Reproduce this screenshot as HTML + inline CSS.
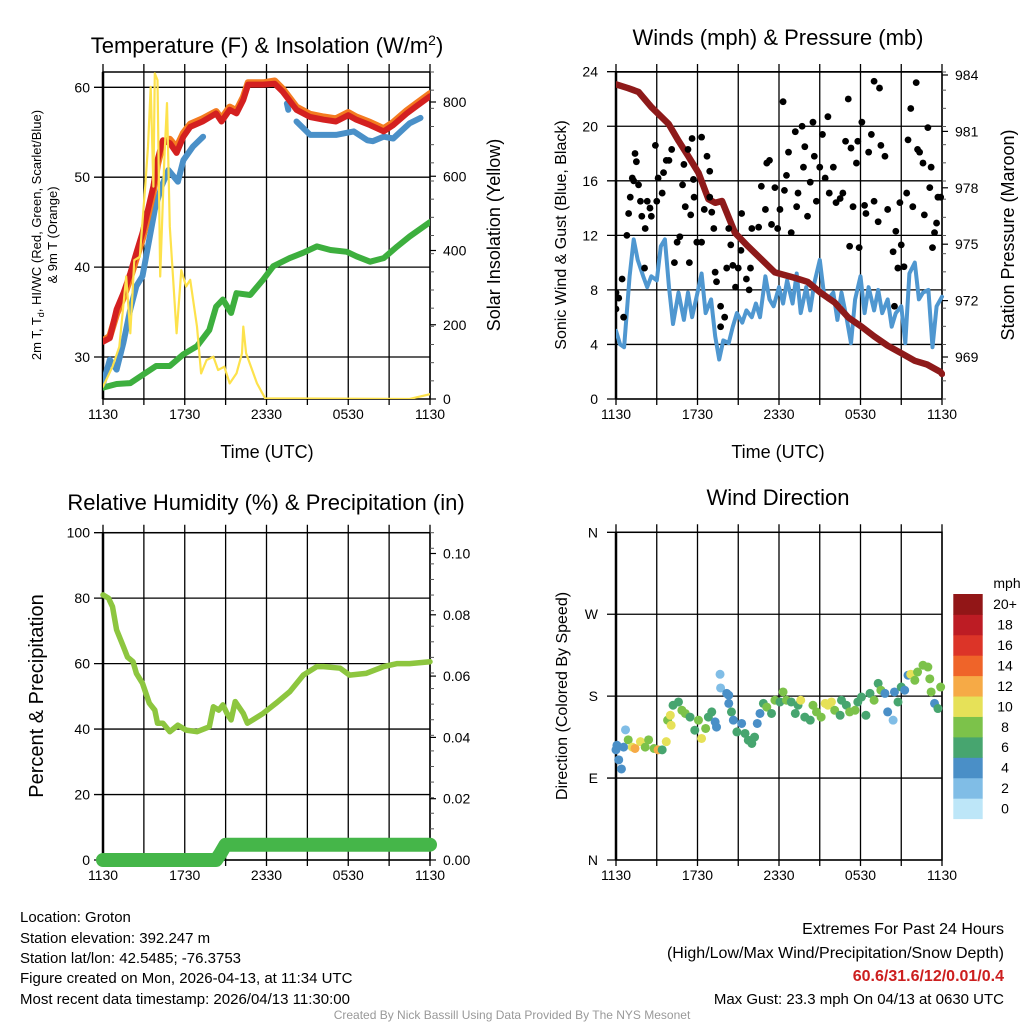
<!DOCTYPE html>
<html><head><meta charset="utf-8"><style>
html,body{margin:0;padding:0;background:#fff;width:1024px;height:1024px;overflow:hidden}
svg{font-family:"Liberation Sans",sans-serif}
</style></head><body>
<svg id="c" width="1024" height="1024" viewBox="0 0 1024 1024">
<g font-size="22" text-anchor="middle" fill="#000">
<text x="267" y="53">Temperature (F) &amp; Insolation (W/m<tspan dy="-8" font-size="14">2</tspan><tspan dy="8">)</tspan></text>
<text x="778" y="45">Winds (mph) &amp; Pressure (mb)</text>
<text x="266" y="510">Relative Humidity (%) &amp; Precipitation (in)</text>
<text x="778" y="505">Wind Direction</text>
</g>
<g id="p1"></g>
<g id="p2"></g>
<g id="p3"></g>
<g id="p4"></g>
<g text-anchor="middle">
<text x="267" y="458" font-size="18">Time (UTC)</text>
<text x="778" y="458" font-size="18">Time (UTC)</text>
<text transform="translate(41,235) rotate(-90)" font-size="13">2m T, T<tspan font-size="9" dy="3">d</tspan><tspan dy="-3">, HI/WC (Red, Green, Scarlet/Blue)</tspan></text>
<text transform="translate(57,235) rotate(-90)" font-size="13">&amp; 9m T (Orange)</text>
<text transform="translate(500,235) rotate(-90)" font-size="18">Solar Insolation (Yellow)</text>
<text transform="translate(566,235) rotate(-90)" font-size="16">Sonic Wind &amp; Gust (Blue, Black)</text>
<text transform="translate(1014,235) rotate(-90)" font-size="18">Station Pressure (Maroon)</text>
<text transform="translate(43,696) rotate(-90)" font-size="20">Percent &amp; Precipitation</text>
<text transform="translate(567,696) rotate(-90)" font-size="16">Direction (Colored By Speed)</text>
</g>
<g font-size="15">
<text x="20" y="922">Location: Groton</text>
<text x="20" y="943">Station elevation: 392.247 m</text>
<text x="20" y="963">Station lat/lon: 42.5485; -76.3753</text>
<text x="20" y="983">Figure created on Mon, 2026-04-13, at 11:34 UTC</text>
<text x="20" y="1004">Most recent data timestamp: 2026/04/13 11:30:00</text>
</g>
<g font-size="16" text-anchor="end">
<text x="1004" y="934">Extremes For Past 24 Hours</text>
<text x="1004" y="958">(High/Low/Max Wind/Precipitation/Snow Depth)</text>
<text x="1004" y="981" fill="#cc1f1f" font-weight="bold">60.6/31.6/12/0.01/0.4</text>
<text x="1004" y="1004" font-size="15">Max Gust: 23.3 mph On 04/13 at 0630 UTC</text>
</g>
<text x="512" y="1019" font-size="12" fill="#999" text-anchor="middle">Created By Nick Bassill Using Data Provided By The NYS Mesonet</text>
</svg>
<script>
// ---------- data ----------
const timeTicks = ["1130","1730","2330","0530","1130"];
const tempTicks = [30,40,50,60];
const solarTicks = [0,200,400,600,800];
const windTicks = [0,4,8,12,16,20,24];
const presTicks = [969,972,975,978,981,984];
const rhTicks = [0,20,40,60,80,100];
const precipTicks = ["0.00","0.02","0.04","0.06","0.08","0.10"];
const dirTicks = ["N","E","S","W","N"];
const speedBins = ["0","2","4","6","8","10","12","14","16","18","20+"];

const tHours = [0,0.5,1,1.5,2,2.45,2.9,3.3,3.7,4,4.4,4.9,5.4,5.9,6.4,7.3,8.3,8.7,9.3,9.8,10.3,10.65,11.75,12.6,13.2,14.2,15.2,16.2,17.1,18,18.6,19.6,20.6,21.3,22.3,23,24];
const tempT = [31.7,32.1,35.3,37.1,39.3,41.6,43.8,46.4,49,51.9,54.1,53.8,52.7,54.5,55.6,56.2,57.1,56.2,57.5,57.1,58.6,60.3,60.3,60.4,59.5,57.5,56.7,56.4,56.2,56.9,56.4,55.8,55.1,55.8,57.1,57.9,59];
const temp9m = [31.8,32.3,34.8,36.6,38.8,41.0,43.2,45.8,48.5,51.4,53.8,54.2,53.3,54.9,55.9,56.5,57.3,56.5,57.8,57.4,58.9,60.5,60.5,60.7,59.8,57.8,57.0,56.7,56.5,57.2,56.7,56.1,55.4,56.1,57.4,58.2,59.3];
const wcHours = [0,0.5,1,1.5,2,2.45,2.9,3.3,3.8,4.3,4.8,5.5,5.9,6.6,7.35,null,9.4,null,13.5,13.6,null,14.2,15.2,16.2,17.1,18.4,19.4,19.8,20.6,21.3,22,22.5,23.3];
const wcVals  = [27,29.7,28.6,31.6,35.3,37.9,39,42.3,46.4,49,50.8,49.5,51.9,53.4,54.5,null,56.4,null,58.2,57.5,null,56.2,54.7,54.7,54.7,55.1,54.1,54,54.5,54.3,55.3,56,56.6];
const tdHours = [0,1,2,2.9,3.9,4.9,5.9,6.9,7.8,8.3,8.8,9.4,9.8,10.8,11.75,12.5,13.7,14.7,15.7,16.7,17.9,18.6,19.6,20.6,21.6,22.5,24];
const tdVals  = [26.6,27,27.1,28,29,29,30.3,31.2,33,35.6,36.4,34.9,37.1,36.9,38.6,40.1,41,41.6,42.3,41.9,41.7,41.2,40.6,41,42.3,43.4,45];
const solHours = [0,0.7,1.2,1.7,2,2.3,2.7,3.1,3.3,3.5,3.7,3.8,4,4.2,4.5,4.7,4.9,5.4,5.75,6.1,6.4,6.9,7.2,7.6,8.1,8.45,8.9,9.3,9.8,10.2,10.3,10.5,11.3,11.9,22.5,24];
const solVals  = [33,87,141,330,177,374,383,572,680,841,572,877,859,330,644,797,464,177,347,303,321,195,69,105,114,78,87,42,69,123,195,123,42,2,0,13];

const presHours = [0,0.9,1.66,2.6,3.87,4.6,5.3,6.07,6.8,7.3,7.8,8.76,9.7,10.7,11.7,13.2,14.1,15.1,16.1,17.1,18.1,19,20,21,22,22.9,23.9,24];
const presVals  = [983.5,983.3,983.1,982.3,981.4,980.5,979.7,978.8,977.4,977.2,977.3,975.6,974.9,974.2,973.5,973.2,973,972.4,971.9,971.1,970.6,970.1,969.6,969.2,968.8,968.6,968.2,968.1];
const windHours = [0,0.3,0.6,1,1.3,1.6,2,2.3,2.6,3,3.3,3.6,3.9,4.2,4.6,5,5.3,5.6,6,6.3,6.6,7,7.3,7.6,7.9,8.3,8.6,8.9,9.3,9.6,10,10.3,10.6,11,11.3,11.6,12,12.3,12.6,13,13.3,13.6,14,14.3,14.6,15,15.3,15.6,16,16.3,16.6,17,17.3,17.6,18,18.3,18.6,19,19.3,19.6,20,20.3,20.6,21,21.3,21.6,22,22.3,22.6,23,23.3,23.6,24];
const windVals  = [5,4,3.8,9,11.7,10.2,9,8.2,9,8.7,11.2,11.7,8.2,5.5,7.8,5.8,7.8,6,7.8,9.2,6.3,7.3,4.6,2.9,4.3,4.1,5.3,6.3,5.6,6.5,6,7,6,9,7.3,6.8,8.2,7,8.7,7,9.2,6.3,8.2,6.5,8.5,10.2,7.8,7.3,7.8,5.8,7.8,5.8,4.1,7.3,9,6.3,8.2,6.5,8,6.3,7.3,5.3,6.3,6.8,4.1,9.2,10,7.3,7.8,8,3.8,6.8,7.5];
const gustHours = [0,0,0.2,0.45,0.56,0.8,0.93,1.05,1.2,1.3,1.4,1.5,1.66,1.8,1.9,2.1,2.15,2.3,2.5,2.6,2.9,3,3.1,3.4,3.5,3.7,3.9,4.1,4.3,4.5,4.7,4.9,5,5.1,5.3,5.4,5.5,5.6,5.7,5.75,5.95,6.3,6.3,6.5,6.7,6.9,6.9,7.05,7.2,7.3,7.4,7.7,7.7,8,8.15,8.3,8.45,8.6,8.8,9,9.2,9.25,9.6,9.8,9.9,10,10.5,10.7,11,11.1,11.3,11.45,11.7,11.9,12.07,12.3,12.4,12.55,12.7,12.9,13.2,13.3,13.4,13.7,13.8,13.9,14.1,14.3,14.5,14.6,14.75,15,15.2,15.4,15.6,15.7,16,16.2,16.5,16.7,16.9,17.1,17.2,17.3,17.45,17.7,17.8,17.9,18.1,18.3,18.4,18.6,18.8,19,19,19.3,19.4,19.5,19.8,20,20.4,20.5,20.6,20.75,20.9,21,21.2,21.4,21.5,21.7,21.85,22.1,22.2,22.35,22.6,22.7,22.96,23.1,23.2,23.3,23.45,23.6,23.7,23.9];
const gustVals  = [6.6,7.8,7.4,8.8,6,12,13.6,14.8,16.2,16,18,17.4,15.7,14.5,13.4,9.6,12.5,14.5,14,13.4,18.6,14.5,16.2,15.1,16.6,17.5,17.5,18.3,10,11.5,11.9,15.7,17.2,14.1,18.3,10,13.5,19.1,16.1,14.8,11.5,11.5,19.2,13.9,17.8,16.7,14.8,13.7,12.5,9.3,8.6,6.8,5.3,6,9.6,12.5,11.3,9.8,8.2,9.6,10.9,13.6,8.8,8,9.6,12.5,12.6,15.6,13.9,17.3,17.5,12.8,15.5,12.5,13.9,21.8,15.3,16.4,18.1,12.2,19.6,14.1,15.1,20,17,18.5,13.4,15.9,20.3,17.8,14.5,17,19.4,16.2,20.7,15.1,17,14.4,14.7,15.1,18.9,22,11.2,18.4,14.1,17.3,18.9,11.1,20.3,14.2,13.6,18.1,19.4,23.3,14.5,13,22.8,18.6,17.8,13.9,10.8,6.8,12.3,9.6,14.4,11.3,9.7,15.1,19,21.3,14.1,23.2,18.3,18.1,17.3,13.5,19.9,15.5,17,11.1,12.2,12.9,14.8,14.8];

const rhHours = [0,0.4,0.7,1,1.5,1.8,2.2,2.45,2.9,3.4,3.8,4,4.4,4.9,5.5,6.1,6.9,7.8,8.1,8.5,8.8,9.1,9.4,9.7,10.3,10.6,11.75,12.7,13.7,14.7,15.7,16.2,17.4,18.1,19.3,20.6,21.6,22.5,24];
const rhVals  = [81,80,77.4,70.3,65.2,62,60.6,57,54,47.9,45.8,41.8,41.8,39.2,41.2,39.7,39.2,40.7,46.8,45.8,47.4,44.8,42.8,48.4,44.8,41.8,44.8,47.9,51.4,56.5,59.1,59.1,58.6,56.5,57,59.1,60,60,60.6];
const precipHours = [0,8.3,8.6,9.0,24];
const precipVals  = [0,0,0.002,0.005,0.005];

const dirHours = [0,0.07,0.2,0.4,0.56,0.7,0.9,1.2,1.4,1.8,2.15,2.4,2.8,3.1,3.4,3.7,3.8,4,4.06,4.2,4.6,4.85,5.1,5.45,5.8,6.07,6.3,6.6,6.8,7.05,7.3,7.4,7.66,7.7,8.15,8.3,8.3,8.5,8.64,8.9,9.25,9.5,9.74,10,10.2,10.4,10.6,10.85,11.1,11.45,11.7,12.07,12.3,12.55,12.9,13.2,13.4,13.6,13.9,14.3,14.5,14.76,15.1,15.4,15.6,15.86,16.1,16.5,16.6,16.96,17.2,17.6,17.8,18.07,18.4,18.7,19,19.3,19.5,19.8,20,20.4,20.5,20.76,21,21.25,21.5,21.7,22,22.2,22.6,22.96,23.1,23.2,23.45,23.7,23.9];
const dirVals  = [121,126,110,100,124,143,132,124,122.5,130,124,132,122.5,121,121,130,153.6,159,148,170,173.6,164.5,161,157,142.6,153.6,133.5,144.5,157,162.7,151.7,146,204,189,183,181,172,162.7,153.6,140.7,150,139,131.6,128,135,150,161,172,168,161,175.5,173.6,184.6,175.5,173.6,161,170,175.5,157,153.6,170,162.7,157,172,170,173.6,164.5,159,175.5,170,162.7,164.5,173.6,179,159,183,175.5,194,186.5,183,162.7,153.6,184.6,173.6,190,186.5,203,204,197.4,206.5,214,212,199,184.6,172,166.4,190];
const dirSpeeds= [4,4,4,4,4,3,8,10,13,10,8,8,8,12,6,10,8,10,10,6,7,8,8,7,6,8,10,8,6,6,4,4,2,2,4,4,4,6,4,6,4,6,6,6,6,4,4,6,8,6,8,6,8,8,6,6,6,10,6,6,8,8,8,10,10,10,8,6,6,6,8,8,6,6,6,6,8,6,8,4,4,2,4,6,6,4,4,10,8,8,8,8,8,8,4,6,8];
const binColors = ["#bde6f8","#80bde6","#4a8fc7","#47a56f","#7cc24a","#e6e158","#f6aa46","#ef6429","#dc3428","#bd1c24","#921617"];

// ---------- helpers ----------
const NS="http://www.w3.org/2000/svg";
function el(tag,attrs,parent){const e=document.createElementNS(NS,tag);for(const k in attrs)e.setAttribute(k,attrs[k]);parent.appendChild(e);return e;}
function linScale(d0,d1,r0,r1){return v=>r0+(v-d0)/(d1-d0)*(r1-r0);}
function pathFrom(xs,ys,fx,fy){let d="",pen=false;for(let i=0;i<xs.length;i++){if(xs[i]===null||ys[i]===null){pen=false;continue;}d+=(pen?"L":"M")+fx(xs[i]).toFixed(1)+","+fy(ys[i]).toFixed(1);pen=true;}return d;}

function frame(g,L,T,R,B,name){
  for(let i=0;i<=8;i++){const x=L+(R-L)*i/8;
    const ln=el("line",{x1:x,y1:T-8,x2:x,y2:B+6,stroke:"#000","stroke-width":1.3},g);
    
    }
  for(let i=0;i<timeTicks.length;i++){const x=L+(R-L)*i/4;
    const t=el("text",{x:x,y:B+20,"font-size":14,"text-anchor":"middle"},g);t.textContent=timeTicks[i];
    
    }
  const r=el("rect",{x:L,y:T,width:R-L,height:B-T,fill:"none",stroke:"#000","stroke-width":1.5},g);
  
  
  el("line",{x1:L,y1:T,x2:L,y2:B,stroke:"#000","stroke-width":2.5},g);
}
function hGrid(g,L,R,y,label,x){
  const ln=el("line",{x1:L-9,y1:y,x2:R,y2:y,stroke:"#000","stroke-width":1.3},g);
  
  
  const t=el("text",{x:x,y:y+5,"font-size":14,"text-anchor":"end"},g);t.textContent=label;
  
  
}
function rTick(g,R,y,label){
  el("line",{x1:R,y1:y,x2:R+6,y2:y,stroke:"#000","stroke-width":1.2},g);
  const t=el("text",{x:R+13,y:y+5,"font-size":14},g);t.textContent=label;
  
  
}
function minorR(g,R,T,B,n){for(let i=0;i<=n;i++){const y=T+(B-T)*i/n;el("line",{x1:R,y1:y,x2:R+4,y2:y,stroke:"#555","stroke-width":1},g);}}
function drawLine(g,xs,ys,fx,fy,color,w,name){
  const p=el("path",{d:pathFrom(xs,ys,fx,fy),fill:"none",stroke:color,"stroke-width":w,"stroke-linejoin":"round","stroke-linecap":"round"},g);
  
  
  return p;
}

// ---------- panel 1 ----------
(function(){
  const g=document.getElementById("p1");const L=103,R=430,T=72,B=399;
  const fx=linScale(0,24,L,R), fy=linScale(60,30,87.3,357), fs=linScale(0,800,399,102);
  frame(g,L,T,R,B,"temperature");
  tempTicks.forEach(v=>hGrid(g,L,R,fy(v),String(v),90));
  minorR(g,R,T,B,18);
  solarTicks.forEach(v=>rTick(g,R,fs(v),String(v)));
  const clip=el("clipPath",{id:"c1"},g);el("rect",{x:L,y:T-2,width:R-L,height:B-T+2},clip);
  const d=el("g",{"clip-path":"url(#c1)"},g);
  drawLine(d,tdHours,tdVals,fx,fy,"#3daf3e",6,"dewpoint-line");
  drawLine(d,wcHours,wcVals,fx,fy,"#4a90c8",6,"windchill-line");
  drawLine(d,tHours,temp9m,fx,fy,"#f47b20",7,"temp-9m-line");
  drawLine(d,tHours,tempT,fx,fy,"#d42020",6,"temp-2m-line");
  drawLine(d,solHours,solVals,fx,fs,"#fde24c",2.2,"solar-line");
})();

// ---------- panel 2 ----------
(function(){
  const g=document.getElementById("p2");const L=616,R=942,T=72,B=399;
  const fx=linScale(0,24,L,R), fy=linScale(0,24,B,71.7), fp=linScale(969,984,357,75);
  frame(g,L,T,R,B,"winds");
  windTicks.forEach(v=>hGrid(g,L,R,fy(v),String(v),598));
  minorR(g,R,T,B,18);
  presTicks.forEach(v=>rTick(g,R,fp(v),String(v)));
  const clip=el("clipPath",{id:"c2"},g);el("rect",{x:L,y:T-2,width:R-L+3,height:B-T+2},clip);
  const d=el("g",{"clip-path":"url(#c2)"},g);
  drawLine(d,windHours,windVals,fx,fy,"#4f97d0",4,"sustained-wind-line");
  drawLine(d,presHours,presVals,fx,fp,"#8e1a1a",6.5,"pressure-line");
  for(let i=0;i<gustHours.length;i++){
    const c=el("circle",{cx:fx(gustHours[i]),cy:fy(gustVals[i]),r:3.4,fill:"#000"},d);
    
    
  }
})();

// ---------- panel 3 ----------
(function(){
  const g=document.getElementById("p3");const L=103,R=430,T=532.7,B=860;
  const fx=linScale(0,24,L,R), fy=linScale(0,100,B,532.7), fp=linScale(0,0.02,860,798.7);
  frame(g,L,T,R,B,"humidity");
  rhTicks.forEach(v=>hGrid(g,L,R,fy(v),String(v),90));
  minorR(g,R,T,B,21);
  precipTicks.forEach(v=>rTick(g,R,fp(parseFloat(v)),v));
  drawLine(g,rhHours,rhVals,fx,fy,"#8dc63f",5.5,"humidity-line");
  drawLine(g,precipHours,precipVals,fx,fp,"#45b649",14,"precipitation-line");
})();

// ---------- panel 4 ----------
(function(){
  const g=document.getElementById("p4");const L=616,R=942,T=532.3,B=860;
  const fx=linScale(0,24,L,R), fy=linScale(0,360,B,T);
  frame(g,L,T,R,B,"wind-direction");
  dirTicks.forEach((v,i)=>hGrid(g,L,R,fy(i*90),v,598));
  for(let i=0;i<dirHours.length;i++){
    const b=Math.min(10,Math.floor(dirSpeeds[i]/2));
    const c=el("circle",{cx:fx(dirHours[i]),cy:fy(dirVals[i]),r:4.5,fill:binColors[b]},g);
    
    
  }
  const cb=el("g",{},g);
  
  
  const cbT=594, cbB=818.7, h=(cbB-cbT)/11;
  for(let i=0;i<11;i++){
    const y=cbB-(i+1)*h;
    const r=el("rect",{x:953.3,y:y,width:29.4,height:h+0.4,fill:binColors[i]},cb);
    
    
    const t=el("text",{x:1005,y:y+h/2+5,"font-size":14,"text-anchor":"middle"},cb);t.textContent=speedBins[i];
    
    
  }
  const u=el("text",{x:1007,y:588,"font-size":14,"text-anchor":"middle"},cb);u.textContent="mph";
  
  
})();
</script>
</body></html>
